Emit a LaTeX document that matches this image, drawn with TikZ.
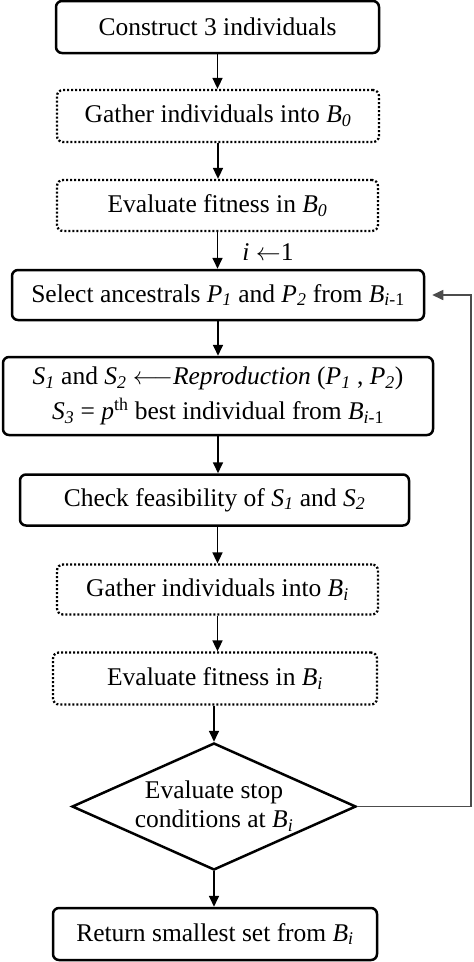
\documentclass[tikz,border=0pt]{standalone}
\usepackage{fontspec}
\setmainfont{Liberation Serif}
\usetikzlibrary{shapes.geometric,arrows.meta}
\newcommand{\vs}[2]{\textit{#1}\textsubscript{\textit{#2}}}
\begin{document}
\begin{tikzpicture}[x=1pt,y=1pt,
  every node/.style={font=\fontsize{25.5}{32}\selectfont, inner sep=0pt, align=center},
  solidbox/.style={draw, line width=2.5pt, rounded corners=6pt},
  dotbox/.style={draw, line width=2.3pt, rounded corners=6pt, dash pattern=on 2pt off 2pt},
  arr/.style={line width=1.7pt, -{Triangle[length=11pt,width=10pt]}},
  back/.style={line width=1.6pt, draw=black!70, -{Triangle[length=11pt,width=10pt]}, shorten >=7pt}]
\useasboundingbox (0,0) rectangle (474,-962);
\node[solidbox, minimum width=323pt, minimum height=52pt] (b1) at (217.5,-27) {Construct 3 individuals};
\node[dotbox, minimum width=322pt, minimum height=52pt] (b2) at (218,-116) {Gather individuals into \vs{B}{0}};
\node[dotbox, minimum width=321pt, minimum height=51pt] (b3) at (217.5,-205.5) {Evaluate fitness in \vs{B}{0}};
\node[solidbox, minimum width=412pt, minimum height=50pt] (b4) at (218,-295) {Select ancestrals \vs{P}{1} and \vs{P}{2} from \textit{B}\textsubscript{\textit{i}-1}};
\node[solidbox, minimum width=430pt, minimum height=78pt] (b5) at (218,-396) {\vs{S}{1} and \vs{S}{2} $\longleftarrow$\textit{Reproduction} (\vs{P}{1} , \vs{P}{2})\\[3pt]\vs{S}{3} = \textit{p}\textsuperscript{th} best individual from \textit{B}\textsubscript{\textit{i}-1}};
\node[solidbox, minimum width=389pt, minimum height=51pt] (b6) at (214.5,-500) {Check feasibility of \vs{S}{1} and \vs{S}{2}};
\node[dotbox, minimum width=321pt, minimum height=50pt] (b7) at (217.5,-589.5) {Gather individuals into \vs{B}{i}};
\node[dotbox, minimum width=324pt, minimum height=52pt] (b8) at (215,-678.5) {Evaluate fitness in \vs{B}{i}};
\node[diamond, draw, line width=2.5pt, minimum width=284pt, minimum height=127pt] (d) at (214,-806.5) {};
\node[font=\fontsize{25.5}{29}\selectfont] (dt) at (d.center) {Evaluate stop\\conditions at \vs{B}{i}};
\node[solidbox, minimum width=324pt, minimum height=52pt] (b9) at (215,-934) {Return smallest set from \vs{B}{i}};
\node (lab) at (268,-252) {\textit{i} $\leftarrow$1};
\coordinate (c1) at (471,-806.5);
\coordinate (c2) at (471,-295);
\draw[arr] (b1.south) -- (b1.south |- b2.north);
\draw[arr] (b2.south) -- (b2.south |- b3.north);
\draw[arr] (b3.south) -- (b3.south |- b4.north);
\draw[arr] (b4.south) -- (b4.south |- b5.north);
\draw[arr] (b5.south) -- (b5.south |- b6.north);
\draw[arr] (b7.north |- b6.south) -- (b7.north);
\draw[arr] (b7.south) -- (b7.south |- b8.north);
\draw[arr] (b8.south -| d.north) -- (d.north);
\draw[arr] (d.south) -- (d.south |- b9.north);
\draw[back] (d.east) -- (c1) -- (c2) -- (b4.east);
\end{tikzpicture}
\end{document}
